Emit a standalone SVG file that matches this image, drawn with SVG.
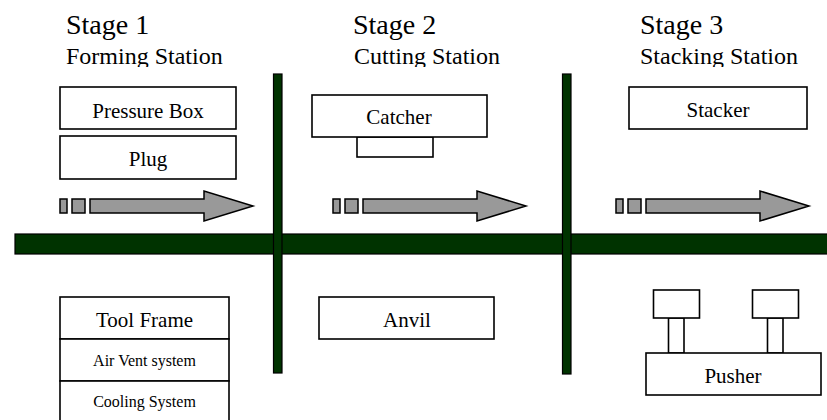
<svg xmlns="http://www.w3.org/2000/svg" width="827" height="420" viewBox="0 0 827 420" font-family="Liberation Serif, Times New Roman, serif">
<style>
.stage{font-size:28px}
.station{font-size:24px}
.lbl{font-size:21px;text-anchor:middle}
.sm{font-size:16px;text-anchor:middle}
.box{fill:#fff;stroke:#000;stroke-width:1.6}
.bar{fill:#003300;stroke:#000;stroke-width:1.2}
.arr{fill:#999;stroke:#000;stroke-width:1.5;stroke-linejoin:miter}
</style>
<defs>
<clipPath id="hdclip"><rect x="0" y="0" width="827" height="67"/></clipPath>
<g id="arrowShape">
<rect class="arr" x="0" y="-7" width="7" height="14"/>
<rect class="arr" x="12" y="-7" width="13" height="14"/>
<path class="arr" d="M30,-7 H144 V-15 L193,0 L144,15 V7 H30 Z"/>
</g>
</defs>
<rect width="827" height="420" fill="#fff"/>

<g id="headers" clip-path="url(#hdclip)">
<text class="stage" font-family="Liberation Serif" x="66" y="34">Stage 1</text>
<text class="station" font-family="Liberation Serif" x="66" y="64">Forming Station</text>
<text class="stage" font-family="Liberation Serif" x="353" y="34">Stage 2</text>
<text class="station" font-family="Liberation Serif" x="354" y="64">Cutting Station</text>
<text class="stage" font-family="Liberation Serif" x="640" y="34">Stage 3</text>
<text class="station" font-family="Liberation Serif" x="640" y="64">Stacking Station</text>
</g>

<g id="frame">
<rect class="bar" x="15" y="234" width="820" height="20"/>
<rect class="bar" x="273.5" y="74" width="8.5" height="299"/>
<rect class="bar" x="562.5" y="74" width="8.5" height="300"/>
</g>

<g id="connectors">
<use href="#arrowShape" x="60" y="206"/>
<use href="#arrowShape" x="333" y="206"/>
<use href="#arrowShape" x="616" y="206"/>
</g>

<g id="pressure-box">
<rect class="box" x="60" y="87" width="176" height="42"/>
<text class="lbl" font-family="Liberation Serif" x="148" y="118">Pressure Box</text>
</g>
<g id="plug">
<rect class="box" x="60" y="136" width="176" height="43"/>
<text class="lbl" font-family="Liberation Serif" x="148" y="166">Plug</text>
</g>

<g id="catcher">
<rect class="box" x="357" y="137" width="76" height="20"/>
<rect class="box" x="312" y="95" width="175" height="42"/>
<text class="lbl" font-family="Liberation Serif" x="399" y="124">Catcher</text>
</g>

<g id="stacker">
<rect class="box" x="629" y="87" width="178" height="42"/>
<text class="lbl" font-family="Liberation Serif" x="718" y="117">Stacker</text>
</g>

<g id="tool-frame">
<rect class="box" x="60" y="297" width="169" height="42"/>
<text class="lbl" font-family="Liberation Serif" x="144.5" y="327">Tool Frame</text>
</g>
<g id="air-vent">
<rect class="box" x="60" y="339" width="169" height="42"/>
<text class="sm" font-family="Liberation Serif" x="144.5" y="366">Air Vent system</text>
</g>
<g id="cooling">
<rect class="box" x="60" y="381" width="169" height="45"/>
<text class="sm" font-family="Liberation Serif" x="144.5" y="407">Cooling System</text>
</g>

<g id="anvil">
<rect class="box" x="319" y="297" width="175" height="42"/>
<text class="lbl" font-family="Liberation Serif" x="407" y="327">Anvil</text>
</g>

<g id="pusher">
<rect class="box" x="668.5" y="318" width="15.5" height="35"/>
<rect class="box" x="767.5" y="318" width="15.5" height="35"/>
<rect class="box" x="653.5" y="290" width="46" height="28"/>
<rect class="box" x="752.5" y="290" width="46" height="28"/>
<rect class="box" x="646" y="353" width="175" height="42"/>
<text class="lbl" font-family="Liberation Serif" x="733" y="383">Pusher</text>
</g>
</svg>
